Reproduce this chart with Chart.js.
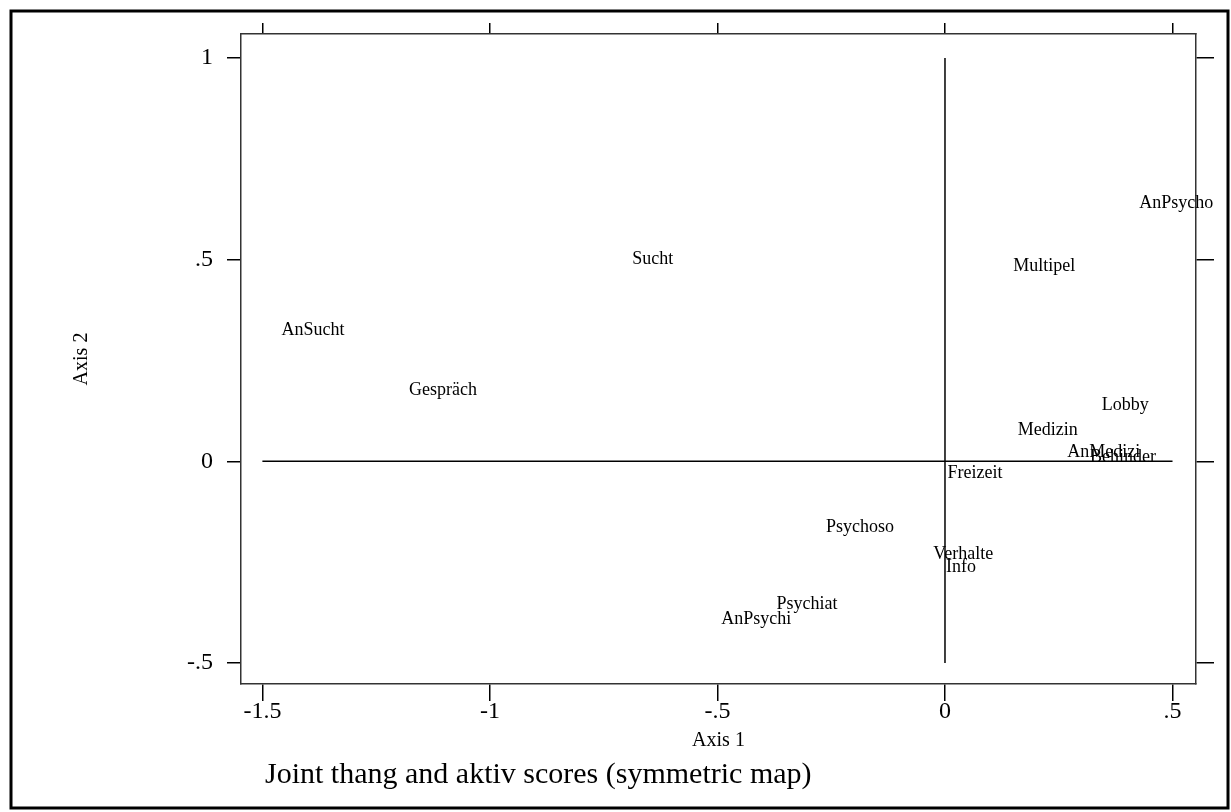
<!DOCTYPE html>
<html>
<head>
<meta charset="utf-8">
<script src="https://cdn.jsdelivr.net/npm/chart.js@4"></script>
<style>
  body { margin: 0; background: #fff; }
  #wrap { width: 1231px; height: 812px; }
</style>
</head>
<body>
<div id="wrap"><canvas id="chart"></canvas></div>
<script>
const categories = ["AnPsycho", "Multipel", "Sucht", "AnSucht", "Gespräch", "Lobby", "Medizin",
    "AnMedizi", "Behinder", "Freizeit", "Psychoso", "Verhalte", "Info", "Psychiat", "AnPsychi"];
const axis1 = [0.508, 0.218, -0.642, -1.389, -1.103, 0.396, 0.226, 0.349, 0.391, 0.066, -0.187, 0.040, 0.035, -0.303, -0.415];
const axis2 = [0.640, 0.484, 0.501, 0.325, 0.176, 0.139, 0.077, 0.022, 0.010, -0.030, -0.164, -0.231, -0.263, -0.355, -0.392];

const xTicks = [-1.5, -1, -0.5, 0, 0.5];
const yTicks = [-0.5, 0, 0.5, 1];
const titleText = "Joint thang and aktiv scores (symmetric map)";

const serif = "'Liberation Serif', 'Times New Roman', serif";

function fmt(v) {
    return String(v).replace("0.", ".");
}

const points = categories.map((c, i) => ({ x: axis1[i], y: axis2[i] }));

// draws the category names at their points, plus the frame and title
const extras = {
    id: "extras",
    beforeDraw(chart) {
        const ctx = chart.ctx;
        ctx.save();
        ctx.fillStyle = "#fff";
        ctx.fillRect(0, 0, chart.width, chart.height);
        ctx.restore();
    },
    afterDatasetsDraw(chart) {
        const ctx = chart.ctx;
        const xs = chart.scales.x, ys = chart.scales.y;
        ctx.save();
        ctx.font = "18px " + serif;
        ctx.fillStyle = "#000";
        ctx.textAlign = "center";
        ctx.textBaseline = "middle";
        points.forEach((p, i) => {
            ctx.fillText(categories[i], xs.getPixelForValue(p.x), ys.getPixelForValue(p.y));
        });
        ctx.restore();
    },
    afterDraw(chart) {
        const ctx = chart.ctx;
        ctx.save();
        ctx.strokeStyle = "#000";
        ctx.lineWidth = 3;
        ctx.strokeRect(11, 11, 1217, 797);
        ctx.font = "30px " + serif;
        ctx.fillStyle = "#000";
        ctx.textAlign = "left";
        ctx.textBaseline = "alphabetic";
        ctx.fillText(titleText, 265, 783);
        ctx.restore();
    }
};

function tickList(list) {
    return s => { s.ticks = list.map(v => ({ value: v })); };
}

const tickFont = { family: serif, size: 24 };

new Chart(document.getElementById("chart"), {
    type: "scatter",
    data: {
        datasets: [
            { data: points, pointRadius: 0, showLine: false },
            { data: [{ x: -1.5, y: 0 }, { x: 0.5, y: 0 }], showLine: true, pointRadius: 0, borderColor: "#000", borderWidth: 1.5 },
            { data: [{ x: 0, y: -0.5 }, { x: 0, y: 1 }], showLine: true, pointRadius: 0, borderColor: "#000", borderWidth: 1.5 }
        ]
    },
    options: {
        responsive: true,
        maintainAspectRatio: false,
        animation: false,
        layout: { padding: 0 },
        plugins: { legend: { display: false }, tooltip: { enabled: false } },
        scales: {
            x: {
                type: "linear", position: "bottom", min: -1.547, max: 0.5516,
                afterBuildTicks: tickList(xTicks),
                afterFit: s => { s.height = 128; },
                grid: { drawOnChartArea: false, drawTicks: true, tickLength: 17, color: "#000", lineWidth: 1.5 },
                border: { display: true, color: "#333", width: 1.5 },
                ticks: { font: tickFont, color: "#000", padding: -4, maxRotation: 0, autoSkip: false, callback: fmt },
                title: { display: true, text: "Axis 1", color: "#000", font: { family: serif, size: 20 }, padding: { top: 0, bottom: 59 } }
            },
            x2: {
                type: "linear", position: "top", min: -1.547, max: 0.5516,
                afterBuildTicks: tickList(xTicks),
                afterFit: s => { s.height = 34; },
                grid: { drawOnChartArea: false, drawTicks: true, tickLength: 11, color: "#000", lineWidth: 1.5 },
                border: { display: true, color: "#333", width: 1.5 },
                ticks: { display: false }
            },
            y: {
                type: "linear", position: "left", min: -0.552, max: 1.0595,
                afterBuildTicks: tickList(yTicks),
                afterFit: s => { s.width = 241; },
                grid: { drawOnChartArea: false, drawTicks: true, tickLength: 14, color: "#000", lineWidth: 1.5 },
                border: { display: true, color: "#333", width: 1.5 },
                ticks: { font: tickFont, color: "#000", padding: 14, autoSkip: false, callback: fmt },
                title: { display: true, text: "Axis 2", color: "#000", font: { family: serif, size: 20 }, padding: { top: 70, bottom: 0 } }
            },
            y2: {
                type: "linear", position: "right", min: -0.552, max: 1.0595,
                afterBuildTicks: tickList(yTicks),
                afterFit: s => { s.width = 35; },
                grid: { drawOnChartArea: false, drawTicks: true, tickLength: 18, color: "#000", lineWidth: 1.5 },
                border: { display: true, color: "#333", width: 1.5 },
                ticks: { display: false }
            }
        }
    },
    plugins: [extras]
});
</script>
</body>
</html>
